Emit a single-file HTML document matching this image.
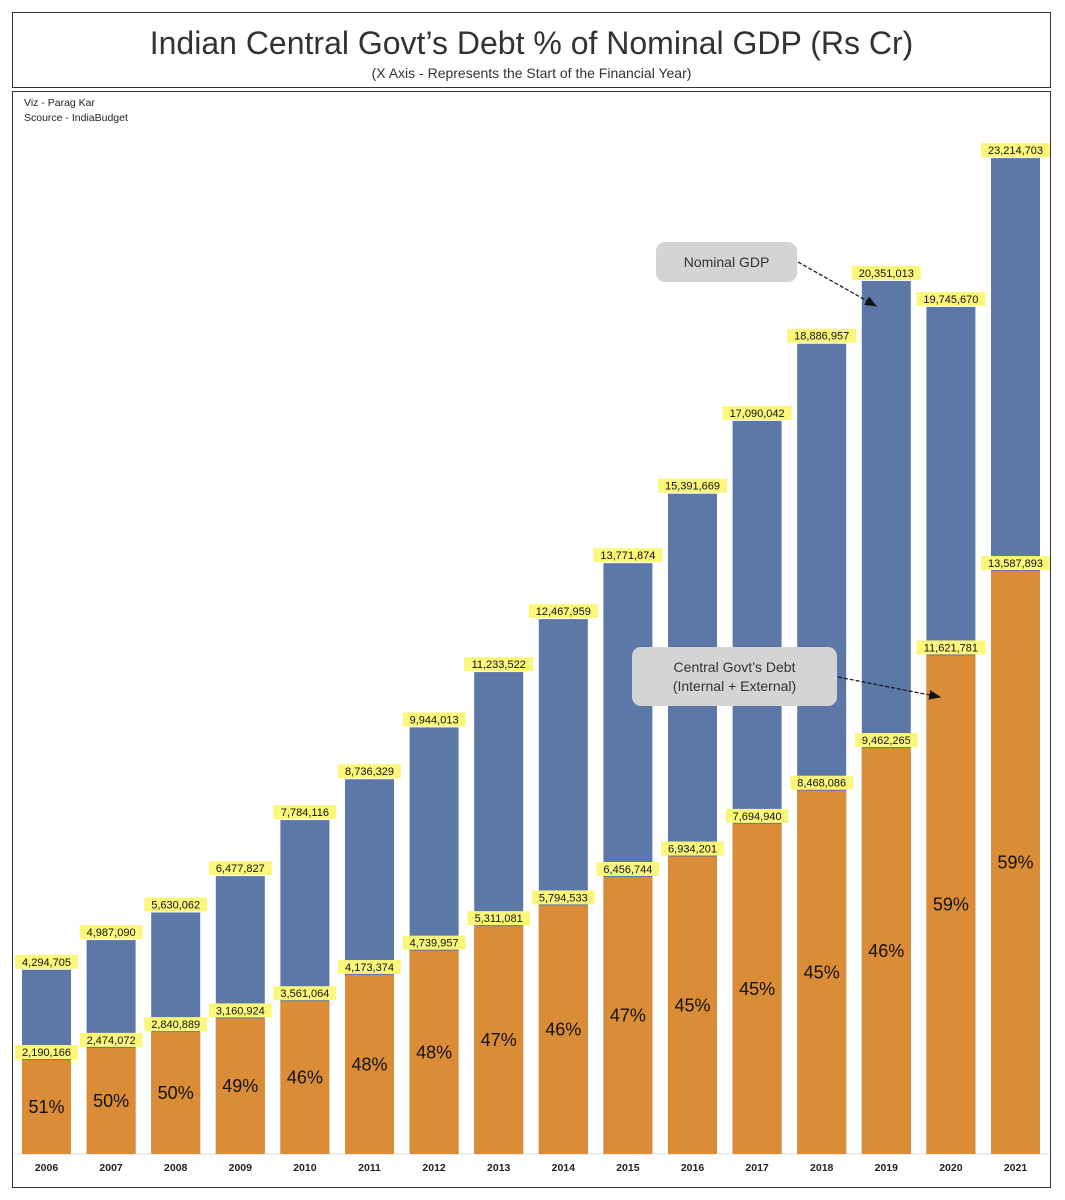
<!DOCTYPE html>
<html><head><meta charset="utf-8"><style>
body{margin:0;background:#fff;font-family:"Liberation Sans","DejaVu Sans",sans-serif;}
#wrap{position:relative;width:1065px;height:1200px;overflow:hidden;}
.box{position:absolute;border:1.5px solid #333;box-sizing:border-box;}
</style></head><body>
<div id="wrap">
<div class="box" style="left:12px;top:12px;width:1039px;height:76px;">
 <div style="position:absolute;left:0;right:0;top:12px;text-align:center;font-size:32px;color:#333;">Indian Central Govt’s Debt % of Nominal GDP (Rs Cr)</div>
 <div style="position:absolute;left:0;right:0;top:52px;text-align:center;font-size:14px;color:#333;">(X Axis - Represents the Start of the Financial Year)</div>
</div>
<div class="box" style="left:12px;top:91px;width:1039px;height:1097px;"></div>
<div style="position:absolute;left:24px;top:96px;font-size:10.5px;line-height:15px;color:#222;">Viz - Parag Kar<br>Scource - IndiaBudget</div>
<svg id="chart" width="1065" height="1200" style="position:absolute;left:0;top:0"></svg>
</div>
<script>
const years=["2006","2007","2008","2009","2010","2011","2012","2013","2014","2015","2016","2017","2018","2019","2020","2021"];
const gdp=[4294705,4987090,5630062,6477827,7784116,8736329,9944013,11233522,12467959,13771874,15391669,17090042,18886957,20351013,19745670,23214703];
const debt=[2190166,2474072,2840889,3160924,3561064,4173374,4739957,5311081,5794533,6456744,6934201,7694940,8468086,9462265,11621781,13587893];
const pct=["51%","50%","50%","49%","46%","48%","48%","47%","46%","47%","45%","45%","45%","46%","59%","59%"];
const NS="http://www.w3.org/2000/svg";
const svg=document.getElementById('chart');
const base=1154, k=42.9/1e6;
const y=v=>base-v*k;
const x=i=>22+i*64.6;
const bw=49;
function mk(t,a){const e=document.createElementNS(NS,t);for(const n in a)e.setAttribute(n,a[n]);svg.appendChild(e);return e;}
function fmt(v){return v.toLocaleString('en-US');}
function label(cx,ty,txt,name){
  const w=txt.length*6.3+6;
  const r=mk('rect',{x:cx-w/2,y:ty-14,width:w,height:14,fill:'#fbf77a'});
  
  
  const t=mk('text',{x:cx,y:ty-3,'text-anchor':'middle','font-size':'11',fill:'#111'});
  t.textContent=txt;
  
  
}
const ax=mk('line',{x1:14,x2:1049,y1:base,y2:base,stroke:'#ddd','stroke-width':1});


years.forEach((yr,i)=>{
  const b=mk('rect',{x:x(i),y:y(gdp[i]),width:bw,height:base-y(gdp[i]),fill:'#5b78a6'});
  
  
  const o=mk('rect',{x:x(i),y:y(debt[i]),width:bw,height:base-y(debt[i]),fill:'#db8c37'});
  
  
  const cx=x(i)+bw/2;
  label(cx,y(gdp[i])-1,fmt(gdp[i]),'gdp-label-'+yr);
  label(cx,y(debt[i])-1,fmt(debt[i]),'debt-label-'+yr);
  const p=mk('text',{x:cx,y:(y(debt[i])+base)/2+6,'text-anchor':'middle','font-size':'18',fill:'#111'});
  p.textContent=pct[i];
  
  
  const t=mk('text',{x:cx,y:1171,'text-anchor':'middle','font-size':'10.5','font-weight':'bold',fill:'#222'});
  t.textContent=yr;
  
  
});
const defs=mk('defs',{});
defs.innerHTML='<marker id="ar" markerWidth="10" markerHeight="8" refX="9" refY="4" orient="auto"><path d="M0,0 L10,4 L0,8 z" fill="#111"/></marker>';
function ann(x0,y0,w,h,lines,ax1,ay1,ax2,ay2,name){
  const r=mk('rect',{x:x0,y:y0,width:w,height:h,rx:9,fill:'#d4d4d4'});
  
  
  lines.forEach((l,j)=>{
    const t=mk('text',{x:x0+w/2,y:y0+h/2+5+(j-(lines.length-1)/2)*19,'text-anchor':'middle','font-size':'14',fill:'#333'});
    t.textContent=l;
    
    
  });
  const a=mk('line',{x1:ax1,y1:ay1,x2:ax2,y2:ay2,stroke:'#111','stroke-width':1.2,'stroke-dasharray':'4,2','marker-end':'url(#ar)'});
  
  
}
ann(656,242,141,40,["Nominal GDP"],798,262,876,306,'gdp-annotation');
ann(632,647,205,59,["Central Govt’s Debt","(Internal + External)"],838,677,940,697,'debt-annotation');
</script>
</body></html>
